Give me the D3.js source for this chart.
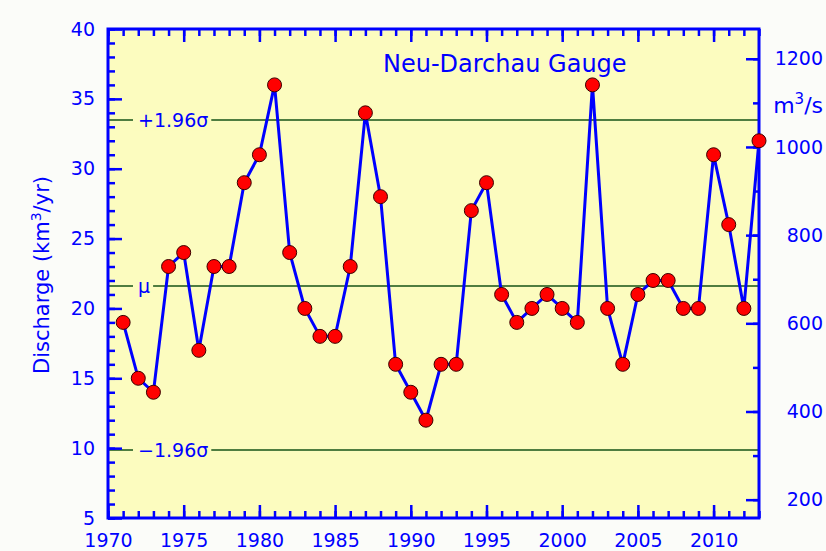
<!DOCTYPE html>
<html>
<head>
<meta charset="utf-8">
<script src="https://cdn.jsdelivr.net/npm/d3@7"></script>
<style>
  body { margin: 0; background: #fbfcf9; }
  svg { display: block; font-family: "DejaVu Sans", sans-serif; }
</style>
</head>
<body>
<svg id="chart" width="826" height="551"></svg>
<script>
// annual discharge at Neu-Darchau, km3/yr
const years = [1971, 1972, 1973, 1974, 1975, 1976, 1977, 1978, 1979, 1980,
  1981, 1982, 1983, 1984, 1985, 1986, 1987, 1988, 1989, 1990,
  1991, 1992, 1993, 1994, 1995, 1996, 1997, 1998, 1999, 2000,
  2001, 2002, 2003, 2004, 2005, 2006, 2007, 2008, 2009, 2010,
  2011, 2012, 2013];
const discharge = [19, 15, 14, 23, 24, 17, 23, 23, 29, 31,
  36, 24, 20, 18, 18, 23, 34, 28, 16, 14,
  12, 16, 16, 27, 29, 21, 19, 20, 21, 20,
  19, 36, 20, 16, 21, 22, 22, 20, 20, 31,
  26, 20, 32];
const refLabels = ["+1.96σ", "μ", "−1.96σ"];
const refValues = [33.5, 21.6, 9.9];
const leftTicks = [5, 10, 15, 20, 25, 30, 35, 40];
const rightTicks = [200, 400, 600, 800, 1000, 1200];
const xTicks = [1970, 1975, 1980, 1985, 1990, 1995, 2000, 2005, 2010];

const blue = "#0000ff";
const K = 1e9 / (365.25 * 86400); // km3/yr -> m3/s
const dim = { left: 108, right: 759, top: 29, bottom: 518 };

const svg = d3.select("#chart");
const x = d3.scaleLinear().domain([1970, 2013]).range([dim.left, dim.right]);
const y = d3.scaleLinear().domain([5, 40]).range([dim.bottom, dim.top]);
const yR = d3.scaleLinear().domain([5 * K, 40 * K]).range([dim.bottom, dim.top]);

svg.append("rect")
    .attr("x", dim.left).attr("y", dim.top)
    .attr("width", dim.right - dim.left).attr("height", dim.bottom - dim.top)
    .attr("fill", "#fcfcbf");

// reference lines
svg.selectAll("line.ref")
    .data(refValues)
    .enter()
    .append("line")
    .attr("class", "ref")
    .attr("x1", dim.left).attr("x2", dim.right)
    .attr("y1", d => Math.round(y(d))).attr("y2", d => Math.round(y(d)))
    .attr("stroke", "#4f7d40")
    .attr("stroke-width", 2);

const refG = svg.selectAll("g.reflabel")
    .data(refValues)
    .enter()
    .append("g")
    .attr("class", "reflabel");
refG.append("rect")
    .attr("fill", "#fcfcbf");
refG.append("text")
    .attr("x", 138)
    .attr("y", d => y(d) + 7)
    .attr("fill", blue)
    .attr("font-size", "19px")
    .text((d, i) => refLabels[i]);
refG.each(function () {
    const g = d3.select(this);
    const b = g.select("text").node().getBBox();
    g.select("rect")
        .attr("x", b.x - 5).attr("y", b.y)
        .attr("width", b.width + 8).attr("height", b.height);
});

// axes
function styleAxis(g, labels) {
    g.select(".domain").remove();
    g.selectAll("line").attr("stroke", blue).attr("stroke-width", 2.5);
    g.selectAll("text")
        .attr("fill", blue)
        .attr("font-size", "19px")
        .attr("font-family", "DejaVu Sans, sans-serif");
    if (!labels) g.selectAll("text").remove();
}
const yearsAll = d3.range(1970, 2014);
const unitsAll = d3.range(5, 41);
const m3All = d3.range(200, 1201, 100);

svg.append("g").attr("transform", `translate(0,${dim.bottom})`)
    .call(d3.axisBottom(x).tickValues(yearsAll).tickSize(-7).tickSizeOuter(0))
    .call(g => styleAxis(g, false));
svg.append("g").attr("transform", `translate(0,${dim.bottom})`)
    .call(d3.axisBottom(x).tickValues(xTicks).tickFormat(d3.format("d"))
        .tickSize(-13).tickSizeOuter(0).tickPadding(16))
    .call(g => styleAxis(g, true));
svg.append("g").attr("transform", `translate(0,${dim.top})`)
    .call(d3.axisTop(x).tickValues(yearsAll).tickSize(-7).tickSizeOuter(0))
    .call(g => styleAxis(g, false));
svg.append("g").attr("transform", `translate(0,${dim.top})`)
    .call(d3.axisTop(x).tickValues(xTicks).tickSize(-13).tickSizeOuter(0))
    .call(g => styleAxis(g, false));

svg.append("g").attr("transform", `translate(${dim.left},0)`)
    .call(d3.axisLeft(y).tickValues(unitsAll).tickSize(-7).tickSizeOuter(0))
    .call(g => styleAxis(g, false));
svg.append("g").attr("transform", `translate(${dim.left},0)`)
    .call(d3.axisLeft(y).tickValues(leftTicks).tickSize(-14).tickSizeOuter(0).tickPadding(13))
    .call(g => styleAxis(g, true));

svg.append("g").attr("transform", `translate(${dim.right},0)`)
    .call(d3.axisRight(yR).tickValues(m3All).tickSize(-6).tickSizeOuter(0))
    .call(g => styleAxis(g, false));
svg.append("g").attr("transform", `translate(${dim.right},0)`)
    .call(d3.axisRight(yR).tickValues(rightTicks).tickFormat(d3.format("d"))
        .tickSize(-13).tickSizeOuter(0))
    .call(g => styleAxis(g, true))
    .call(g => g.selectAll("text").attr("text-anchor", "end").attr("x", 823 - dim.right));

svg.append("rect")
    .attr("x", dim.left).attr("y", dim.top)
    .attr("width", dim.right - dim.left).attr("height", dim.bottom - dim.top)
    .attr("fill", "none")
    .attr("stroke", blue)
    .attr("stroke-width", 3);

// data
const line = d3.line()
    .x((d, i) => x(years[i]))
    .y(d => y(d));
svg.append("path")
    .datum(discharge)
    .attr("d", line)
    .attr("fill", "none")
    .attr("stroke", blue)
    .attr("stroke-width", 3);
svg.selectAll("circle")
    .data(discharge)
    .enter()
    .append("circle")
    .attr("cx", (d, i) => x(years[i]))
    .attr("cy", d => y(d))
    .attr("r", 7)
    .attr("fill", "#ff0000")
    .attr("stroke", "#3a0000")
    .attr("stroke-width", 1);

// titles
svg.append("text")
    .attr("x", 383).attr("y", 72)
    .attr("fill", blue)
    .attr("font-size", "24px")
    .text("Neu-Darchau Gauge");

const yl = svg.append("text")
    .attr("transform", "translate(49,275) rotate(-90)")
    .attr("text-anchor", "middle")
    .attr("fill", blue)
    .attr("font-size", "21px");
yl.append("tspan").text("Discharge (km");
yl.append("tspan").attr("font-size", "14px").attr("dy", -8).text("3");
yl.append("tspan").attr("dy", 8).text("/yr)");

const ul = svg.append("text")
    .attr("x", 823).attr("y", 113)
    .attr("text-anchor", "end")
    .attr("fill", blue)
    .attr("font-size", "22px");
ul.append("tspan").text("m");
ul.append("tspan").attr("font-size", "15px").attr("dy", -9).text("3");
ul.append("tspan").attr("dy", 9).text("/s");
</script>
</body>
</html>
